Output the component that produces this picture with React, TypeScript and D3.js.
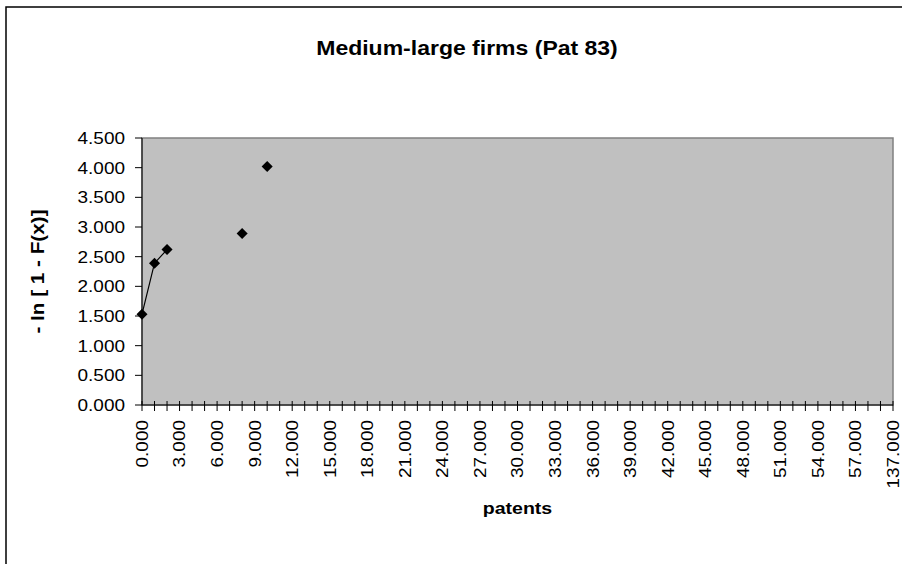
import React from "react";
import * as d3 from "d3";

// Category axis: patent counts (every category gets a tick, every third a label)
const patentCategories: number[] = [
  0, 1, 2, 3, 4, 5, 6, 7, 8, 9, 10, 11, 12, 13, 14, 15, 16, 17, 18, 19,
  20, 21, 22, 23, 24, 25, 26, 27, 28, 29, 30, 31, 32, 33, 34, 35, 36, 37, 38, 39,
  40, 41, 42, 43, 44, 45, 46, 47, 48, 49, 50, 51, 52, 53, 54, 55, 56, 57, 58, 59,
  137,
];

// Observed points of - ln[1 - F(x)]
const observedPatents: number[] = [0, 1, 2, 8, 10];
const observedValues: number[] = [1.53, 2.39, 2.62, 2.89, 4.02];

const yTicks: number[] = [0, 0.5, 1, 1.5, 2, 2.5, 3, 3.5, 4, 4.5];

const title = "Medium-large firms (Pat 83)";
const xTitle = "patents";
const yTitle = "- ln [ 1 - F(x)]";

const W = 902;
const H = 564;
const plot = { left: 142, right: 893, top: 138, bottom: 405 };
const FONT = "'Liberation Sans', Arial, sans-serif";
const SX = 1.15; // wide glyph rendering

export default function App() {
  const x = d3
    .scalePoint<number>()
    .domain(patentCategories.map((_, i) => i))
    .range([plot.left, plot.right]);
  const y = d3.scaleLinear().domain([0, 4.5]).range([plot.bottom, plot.top]);

  const series = patentCategories.map((c, i) => {
    const k = observedPatents.indexOf(c);
    return { i, v: k >= 0 ? observedValues[k] : null };
  });

  const line = d3
    .line<{ i: number; v: number | null }>()
    .defined((d) => d.v !== null)
    .x((d) => x(d.i)!)
    .y((d) => y(d.v as number));

  const diamond = d3.symbol().type(d3.symbolDiamond2).size(78)();

  return (
    <svg
      width={W}
      height={H}
      style={{ position: "absolute", left: 0, top: 0, background: "#fff" }}
      fontFamily={FONT}
    >
      <rect x={6} y={7} width={W + 20} height={H + 20} fill="#fff" stroke="#000" strokeWidth={1.5} />

      <text
        transform={`translate(467,55) scale(${SX},1)`}
        textAnchor="middle"
        fontSize={20}
        fontWeight="bold"
      >
        {title}
      </text>

      {/* plot area */}
      <rect
        x={plot.left}
        y={plot.top}
        width={plot.right - plot.left}
        height={plot.bottom - plot.top}
        fill="#C0C0C0"
        stroke="#808080"
        strokeWidth={1.5}
      />

      {/* y axis */}
      <line x1={plot.left} x2={plot.left} y1={plot.top} y2={plot.bottom} stroke="#000" />
      {yTicks.map((t) => (
        <g key={t}>
          <line x1={plot.left - 7} x2={plot.left} y1={y(t)} y2={y(t)} stroke="#000" />
          <text
            transform={`translate(${plot.left - 17},${y(t)}) scale(${SX},1)`}
            textAnchor="end"
            dy="0.36em"
            fontSize={16.5}
          >
            {t.toFixed(3)}
          </text>
        </g>
      ))}

      {/* x axis */}
      <line x1={plot.left} x2={plot.right} y1={plot.bottom} y2={plot.bottom} stroke="#000" />
      {patentCategories.map((c, i) => (
        <g key={i}>
          <line x1={x(i)} x2={x(i)} y1={plot.bottom - 4} y2={plot.bottom + 6} stroke="#000" />
          {i % 3 === 0 && (
            <text
              transform={`translate(${x(i)},${plot.bottom + 15}) rotate(-90) scale(${SX},1)`}
              textAnchor="end"
              dy="0.36em"
              fontSize={16.5}
            >
              {c.toFixed(3)}
            </text>
          )}
        </g>
      ))}

      {/* series */}
      <path d={line(series) || ""} fill="none" stroke="#000" strokeWidth={1.2} />
      {series
        .filter((d) => d.v !== null)
        .map((d) => (
          <path key={d.i} d={diamond!} transform={`translate(${x(d.i)},${y(d.v as number)})`} fill="#000" />
        ))}

      <text
        transform={`translate(${(plot.left + plot.right) / 2},514) scale(${SX},1)`}
        textAnchor="middle"
        fontSize={17}
        fontWeight="bold"
      >
        {xTitle}
      </text>
      <text
        transform={`translate(38,${(plot.top + plot.bottom) / 2}) rotate(-90) scale(${SX},1)`}
        textAnchor="middle"
        dy="0.36em"
        fontSize={18}
        fontWeight="bold"
      >
        {yTitle}
      </text>
    </svg>
  );
}
